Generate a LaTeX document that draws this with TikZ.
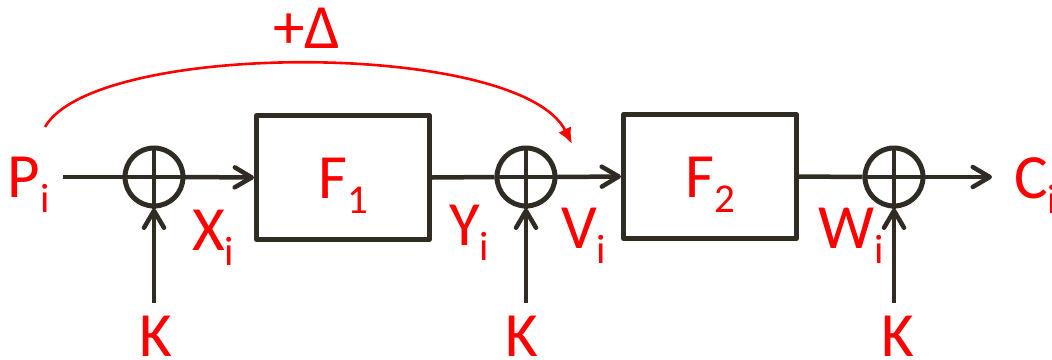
\documentclass[tikz,border=0pt]{standalone}
\usepackage{fontspec}
\setmainfont{Carlito}
\usetikzlibrary{arrows.meta}
\definecolor{ink}{RGB}{48,44,36}
\definecolor{lab}{RGB}{255,0,0}
\newcommand{\sub}[2]{#1\raisebox{-15pt}{\fontsize{41}{41}\selectfont #2}}
\begin{document}
\begin{tikzpicture}[x=1pt,y=-1pt,
  every node/.style={inner sep=0pt, outer sep=0pt},
  lbl/.style={text=lab, font=\fontsize{63}{63}\selectfont, anchor=base west},
  xorc/.style={circle, draw=ink, line width=5pt, minimum size=58pt, outer sep=2.5pt},
  fbox/.style={rectangle, draw=ink, line width=5pt, line join=round, minimum width=173pt, minimum height=124pt, outer sep=2.5pt,
     text=lab, font=\fontsize{63}{63}\selectfont, text height=41pt, text depth=0pt},
  wire/.style={draw=ink, line width=4.5pt},
  arr/.style={wire, -{Straight Barb[length=17pt,width=20pt,round]}},
  redarr/.style={draw=lab, line width=2.6pt, -{Latex[length=16pt,width=14pt]}}
]
\useasboundingbox (0,0) rectangle (1052,359);

% adders
\node[xorc] (c1) at (154,177) {};
\node[xorc] (c2) at (526,177) {};
\node[xorc] (c3) at (894,177) {};
\foreach \c in {c1,c2,c3}{
  \draw[wire, line width=4pt] (\c.north) -- (\c.south);
  \draw[wire, line width=4pt] (\c.west) -- (\c.east);
}

% boxes
\node[fbox] (F1) at (343,177.5) {\sub{F}{1}};
\node[fbox] (F2) at (710,176.5) {\sub{F}{2}};

% labels
\node[lbl] (P) at (8,197) {\sub{P}{i}};
\node[lbl] (X) at (192,250) {\sub{X}{i}};
\node[lbl] (Y) at (449,245) {\sub{Y}{i}};
\node[lbl] (V) at (561,248) {\sub{V}{i}};
\node[lbl] (W) at (818,248) {\sub{W}{i}};
\node[lbl] (C) at (1014,198) {\sub{C}{i}};
\node[lbl] (k1) at (139,356.5) {K};
\node[lbl] (k2) at (505,356.5) {K};
\node[lbl] (k3) at (881,356.5) {K};
\node[lbl] (delta) at (273,48) {+Δ};

% wire ends
\coordinate (pin) at (63,177);
\coordinate (cout) at (992,177);
\coordinate (a1) at (154,303);
\coordinate (a2) at (526,303);
\coordinate (a3) at (894,303);
\coordinate (rs) at (45,127);
\coordinate (re) at (572,144);

% wires
\draw[wire] (pin) -- (c1.west);
\draw[arr] (c1.east) -- (F1.west);
\draw[wire] (F1.east) -- (c2.west);
\draw[arr] (c2.east) -- (F2.west);
\draw[wire] (F2.east) -- (c3.west);
\draw[arr] (c3.east) -- (cout);
\draw[arr] (a1) -- (c1.south);
\draw[arr] (a2) -- (c2.south);
\draw[arr] (a3) -- (c3.south);

% delta curve
\draw[redarr] (rs) .. controls (95,40) and (520,40) .. (re);
\end{tikzpicture}
\end{document}
